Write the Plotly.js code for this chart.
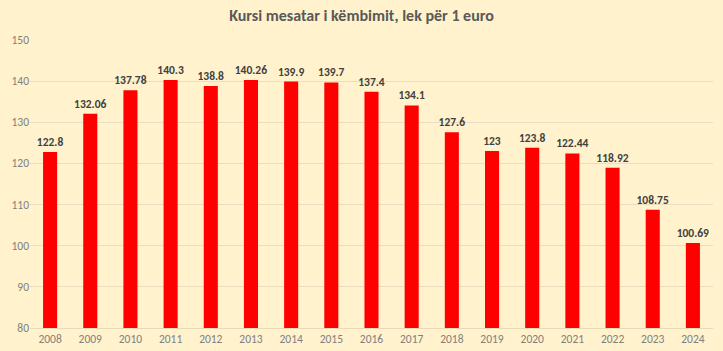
<!DOCTYPE html>
<html><head><meta charset="utf-8">
<script src="https://cdn.plot.ly/plotly-3.0.1.min.js"></script>
<style>html,body{margin:0;padding:0;background:#FFF2CC;}</style>
</head><body>
<div id="chart" style="width:723px;height:351px;"></div>
<script>
const years = ["2008","2009","2010","2011","2012","2013","2014","2015","2016","2017","2018","2019","2020","2021","2022","2023","2024"];
const rates = [122.8,132.06,137.78,140.3,138.8,140.26,139.9,139.7,137.4,134.1,127.6,123,123.8,122.44,118.92,108.75,100.69];
const labels = ["122.8","132.06","137.78","140.3","138.8","140.26","139.9","139.7","137.4","134.1","127.6","123","123.8","122.44","118.92","108.75","100.69"];
const tickVals = [80,90,100,110,120,130,140,150];

const font = "Carlito, Lato, 'Open Sans', sans-serif";
Plotly.newPlot('chart', [{
  type:'bar', x: years, y: rates, text: labels, textposition:'outside', constraintext:'none',
  textfont:{family:font, size:11.5, color:'#404040', weight:'bold'},
  marker:{color:'#FF0000'}, cliponaxis:false, hoverinfo:'skip'
}], {
  width:723, height:351,
  paper_bgcolor:'#FFF2CC', plot_bgcolor:'#FFF2CC',
  margin:{l:30, r:10, t:40, b:23},
  bargap:0.65,
  title:{text:'<b>Kursi mesatar i këmbimit, lek për 1 euro</b>', x:0.5, xanchor:'center', y:0.955, yanchor:'middle',
    font:{family:font, size:16, color:'#595959'}},
  xaxis:{type:'category', tickfont:{family:font, size:11.5, color:'#7F7F7F'}, showgrid:false, showline:true, linecolor:'#E6DABB', ticks:'', zeroline:false},
  yaxis:{range:[80,150], tickvals:tickVals, tickfont:{family:font, size:11.5, color:'#7F7F7F'}, showgrid:true, gridcolor:'#E9DEC0', zeroline:false, ticks:'', showline:false},
  showlegend:false
}, {displayModeBar:false, staticPlot:true});
</script>
</body></html>
